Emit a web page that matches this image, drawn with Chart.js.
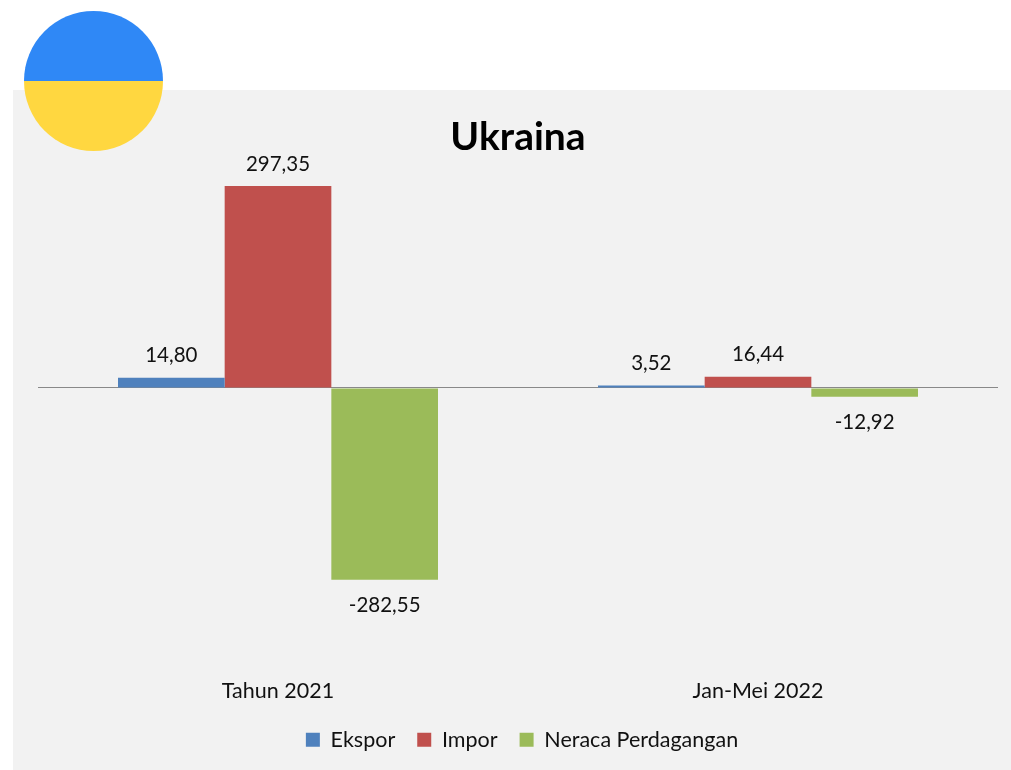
<!DOCTYPE html>
<html>
<head>
<meta charset="utf-8">
<title>Ukraina</title>
<script src="https://cdn.jsdelivr.net/npm/chart.js@4"></script>
<style>
    html, body { margin: 0; padding: 0; background: #fff; overflow: hidden; }
    #panel { position: absolute; left: 13px; top: 90px; width: 998px; height: 680px; background: #f2f2f2; }
    #flag {
        position: absolute; left: 24px; top: 11px; width: 139px; height: 140px; border-radius: 50%;
        background: linear-gradient(to bottom, #2f88f6 50%, #ffd740 50%);
    }
    #wrap { position: absolute; left: 38px; top: 90px; width: 960px; height: 680px; }
</style>
</head>
<body>
<div id="panel"></div>
<div id="flag"></div>
<div id="wrap"><canvas id="bar_chart" width="960" height="680"></canvas></div>
<script>
    var categories = ['Tahun 2021', 'Jan-Mei 2022'];
    var ekspor = [14.80, 3.52];
    var impor = [297.35, 16.44];
    var neraca = [-282.55, -12.92];

    //Values above and below the bars, comma as decimal mark
    var valueLabels = {
        id: 'valueLabels',
        afterDatasetsDraw: function (chart) {
            var ctx = chart.ctx;
            ctx.save();
            ctx.font = '20.5px Lato';
            ctx.fillStyle = '#111';
            ctx.textAlign = 'center';
            ctx.textBaseline = 'middle';
            chart.data.datasets.forEach(function (ds, i) {
                chart.getDatasetMeta(i).data.forEach(function (bar, j) {
                    var v = ds.data[j];
                    var y = v < 0 ? bar.y + 26 : bar.y - 22;
                    ctx.fillText(v.toFixed(2).replace('.', ','), bar.x, y);
                });
            });
            ctx.restore();
        }
    };

    //Legend keeps wide gaps between items, takes less height and sits a little right of centre
    var legendTweak = {
        id: 'legendTweak',
        beforeInit: function (chart) {
            var legend = chart.legend;
            var fit = legend.fit;
            var draw = legend.draw;
            legend.fit = function () {
                fit.call(this);
                this.height = 63;
            };
            legend.draw = function () {
                this.ctx.save();
                this.ctx.translate(4, 0);
                draw.call(this);
                this.ctx.restore();
            };
        }
    };

    var config = {
        type: 'bar',
        data: {
            labels: categories,
            datasets: [{
                label: 'Ekspor',
                data: ekspor,
                backgroundColor: '#4f81bd'
            }, {
                label: 'Impor',
                data: impor,
                backgroundColor: '#c0504d'
            }, {
                label: 'Neraca Perdagangan',
                data: neraca,
                backgroundColor: '#9bbb59'
            }]
        },
        options: {
            responsive: false,
            animation: false,
            categoryPercentage: 2 / 3,
            barPercentage: 1,
            plugins: {
                title: {
                    display: true,
                    text: 'Ukraina',
                    color: '#000',
                    font: { family: 'Lato', size: 39, weight: 'bold' },
                    padding: { top: 24, bottom: 3 }
                },
                legend: {
                    position: 'bottom',
                    labels: {
                        color: '#111',
                        font: { family: 'Lato', size: 21.5 },
                        boxWidth: 14,
                        boxHeight: 14,
                        padding: 22
                    }
                },
                tooltip: { enabled: false }
            },
            scales: {
                x: {
                    grid: { display: false },
                    border: { display: false },
                    ticks: { color: '#111', font: { family: 'Lato', size: 21.5 }, padding: 11, maxRotation: 0 },
                    afterFit: function (scale) { scale.height = 47.5; }
                },
                y: {
                    min: -400,
                    max: 330,
                    grid: {
                        drawTicks: false,
                        color: function (c) { return c.tick.value === 0 ? '#898989' : 'rgba(0,0,0,0)'; }
                    },
                    border: { display: false },
                    ticks: { display: false, stepSize: 100 }
                }
            }
        },
        plugins: [valueLabels, legendTweak]
    };

    var chart = new Chart(document.getElementById('bar_chart').getContext('2d'), config);
</script>
</body>
</html>
